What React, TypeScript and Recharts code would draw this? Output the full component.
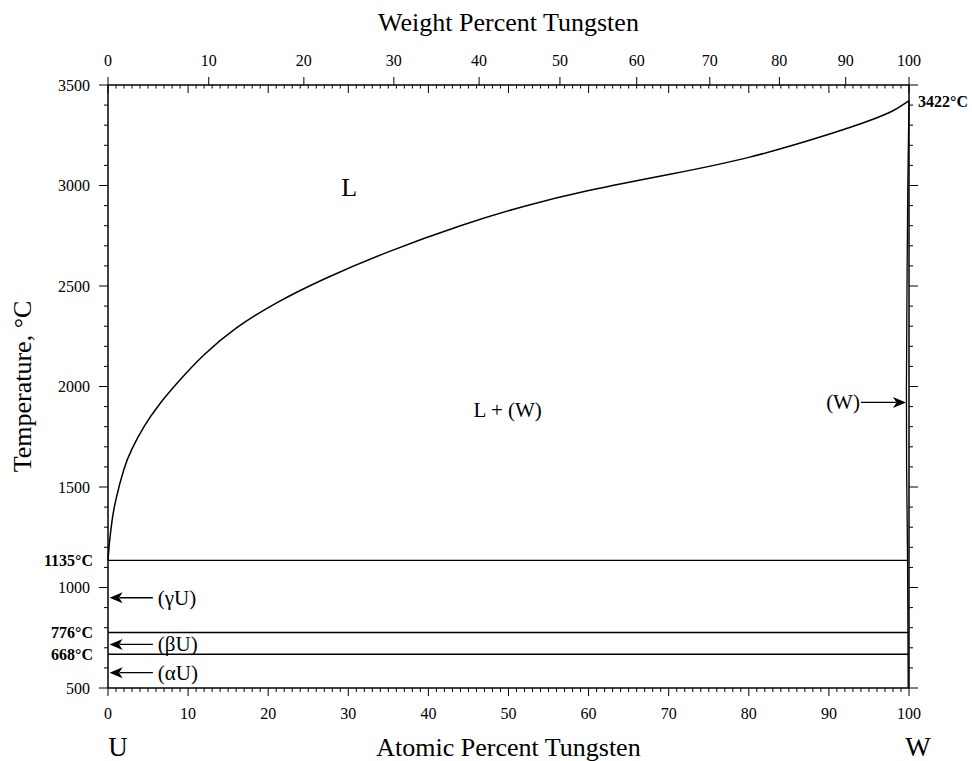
import { LineChart, Line, XAxis, YAxis, ReferenceLine, ReferenceDot } from 'recharts'

const serif = "'Liberation Serif', 'Times New Roman', serif"

// liquidus, atomic % W vs temperature
const liquidusAt = [0, 0.2, 0.5, 1, 2, 3, 4.5, 6.5, 9, 12, 16, 21, 27, 35, 44, 52, 60, 70, 80, 90, 95, 98, 100]
const liquidusT = [1135, 1230, 1330, 1440, 1590, 1690, 1800, 1915, 2033, 2158, 2290, 2415, 2535, 2670, 2800, 2897, 2975, 3055, 3140, 3255, 3322, 3372, 3422]

// (W) solidus / solvus on the tungsten side
const solidusAt = [100, 99.85, 99.75, 99.68, 99.7, 99.78, 99.82, 99.9]
const solidusT = [3422, 3000, 2500, 2000, 1600, 1300, 1135, 500]

// invariant horizontals
const invariantT = [1135, 776, 668]
const invariantEnd = [99.82, 100, 100]

const weightLabels = [0, 10, 20, 30, 40, 50, 60, 70, 80, 90, 100]
const tempLabels = [500, 1000, 1500, 2000, 2500, 3000, 3500]
const boldLeft = [1135, 776, 668]
const boldRight = [3422]

// phase arrows
const arrowText = ['(γU)', '(βU)', '(αU)', '(W)']
const arrowT = [949, 717, 576, 1921]
const arrowFrom = [5.6, 5.6, 5.6, 94.0]
const arrowTo = [0.2, 0.2, 0.2, 99.62]

const regionText = ['L', 'L + (W)']
const regionAt = [30.1, 49.9]
const regionT = [2988, 1883]
const regionSize = [26, 21]

const toAtomic = (w: number) => {
  if (w <= 0) return 0
  if (w >= 100) return 100
  const a = w / 183.84
  const b = (100 - w) / 238.03
  return (a / (a + b)) * 100
}

const weightAt = weightLabels.map(toAtomic)
const atomicMinor = Array.from({ length: 101 }, (_, i) => i)
const topTicks = Array.from(new Set([...atomicMinor, ...weightAt]))
const tempMinor = Array.from({ length: 31 }, (_, i) => 500 + i * 100)
const leftTicks = [...tempMinor, ...boldLeft]
const rightTicks = [...tempMinor, ...boldRight]

const liquidus = liquidusAt.map((x, i) => ({ x, y: liquidusT[i] }))
const solidus = solidusAt.map((x, i) => ({ x, y: solidusT[i] }))
const invariants = invariantT.map((t, i) => [
  { x: 0, y: t },
  { x: invariantEnd[i], y: t },
])

const txt = { fontFamily: serif, fill: '#000' }

function BottomTick({ x, y, payload }: any) {
  const v = payload.value
  const major = v % 10 === 0
  return (
    <g>
      <line x1={x} y1={y} x2={x} y2={y + (major ? 8 : 4)} stroke="#000" strokeWidth={1} />
      {major && (
        <text x={x} y={y + 31} textAnchor="middle" fontSize={16} style={txt}>
          {v}
        </text>
      )}
      {v === 0 && (
        <text x={x + 10} y={y + 68} textAnchor="middle" fontSize={27} style={txt}>U</text>
      )}
      {v === 100 && (
        <text x={x + 9} y={y + 68} textAnchor="middle" fontSize={27} style={txt}>W</text>
      )}
    </g>
  )
}

function TopTick({ x, y, payload }: any) {
  const v = payload.value
  const isInt = Number.isInteger(v)
  const wi = weightAt.findIndex((a) => Math.abs(a - v) < 1e-9)
  return (
    <g>
      {isInt && <line x1={x} y1={y} x2={x} y2={y + (v % 10 === 0 ? 8 : 3.5)} stroke="#000" strokeWidth={1} />}
      {wi >= 0 && (
        <>
          <line x1={x} y1={y} x2={x} y2={y - 8} stroke="#000" strokeWidth={1} />
          <text x={x} y={y - 19} textAnchor="middle" fontSize={16} style={txt}>
            {weightLabels[wi]}
          </text>
        </>
      )}
    </g>
  )
}

function LeftTick({ x, y, payload }: any) {
  const v = payload.value
  if (boldLeft.includes(v)) {
    return (
      <text x={x - 15} y={y + 5.5} textAnchor="end" fontSize={16} fontWeight="bold" style={txt}>
        {v}°C
      </text>
    )
  }
  const major = tempLabels.includes(v)
  return (
    <g>
      <line x1={x} y1={y} x2={x - (major ? 9 : 4)} y2={y} stroke="#000" strokeWidth={1} />
      {major && (
        <text x={x - 18} y={y + 5.5} textAnchor="end" fontSize={16} style={txt}>
          {v}
        </text>
      )}
    </g>
  )
}

function RightTick({ x, y, payload }: any) {
  const v = payload.value
  if (boldRight.includes(v)) {
    return (
      <text x={x + 9} y={y + 6.5} textAnchor="start" fontSize={16} fontWeight="bold" style={txt}>
        {v}°C
      </text>
    )
  }
  const major = tempLabels.includes(v)
  return <line x1={x} y1={y} x2={x + (major ? 9 : 4)} y2={y} stroke="#000" strokeWidth={1} />
}

function Arrow(props: any) {
  const { x1, y1, x2, y2 } = props
  const dir = Math.sign(x2 - x1)
  const head = 13
  const half = 5.5
  const bx = x2 - dir * head
  return (
    <g>
      <line x1={x1} y1={y1} x2={bx + dir * 3} y2={y2} stroke="#000" strokeWidth={1.3} />
      <polygon points={`${x2},${y2} ${bx},${y2 - half} ${bx + dir * 3.5},${y2} ${bx},${y2 + half}`} fill="#000" />
    </g>
  )
}

const titleStyle = { fontFamily: serif, fontSize: 26, fill: '#000' }

export default function App() {
  return (
    <div style={{ position: 'absolute', left: 0, top: 0, background: '#fff' }}>
      <LineChart width={972} height={761} margin={{ top: 0, right: 0, bottom: 0, left: 0 }}>
        <XAxis
          xAxisId="bottom"
          type="number"
          dataKey="x"
          domain={[0, 100]}
          ticks={atomicMinor}
          interval={0}
          height={73}
          tickLine={false}
          tickSize={0}
          tickMargin={0}
          axisLine={{ stroke: '#000', strokeWidth: 1.5 }}
          tick={(p: any) => <BottomTick {...p} />}
          label={{
            content: (p: any) => {
              const vb = p.viewBox
              return (
                <text x={vb.x + vb.width / 2} y={vb.y + 68} textAnchor="middle" style={titleStyle}>
                  Atomic Percent Tungsten
                </text>
              )
            },
          }}
        />
        <XAxis
          xAxisId="top"
          orientation="top"
          type="number"
          dataKey="x"
          domain={[0, 100]}
          ticks={topTicks}
          interval={0}
          height={85}
          tickLine={false}
          tickSize={0}
          tickMargin={0}
          axisLine={{ stroke: '#000', strokeWidth: 1.5 }}
          tick={(p: any) => <TopTick {...p} />}
          label={{
            content: (p: any) => {
              const vb = p.viewBox
              return (
                <text x={vb.x + vb.width / 2} y={vb.y + 31} textAnchor="middle" style={titleStyle}>
                  Weight Percent Tungsten
                </text>
              )
            },
          }}
        />
        <YAxis
          yAxisId="left"
          type="number"
          domain={[500, 3500]}
          ticks={leftTicks}
          interval={0}
          width={108}
          tickLine={false}
          tickSize={0}
          tickMargin={0}
          axisLine={{ stroke: '#000', strokeWidth: 1.5 }}
          tick={(p: any) => <LeftTick {...p} />}
          label={{
            content: (p: any) => {
              const vb = p.viewBox
              const cy = vb.y + vb.height / 2
              return (
                <text x={22} y={cy} textAnchor="middle" dominantBaseline="central" transform={`rotate(-90, 22, ${cy})`} style={titleStyle}>
                  Temperature, °C
                </text>
              )
            },
          }}
        />
        <YAxis
          yAxisId="right"
          orientation="right"
          type="number"
          domain={[500, 3500]}
          ticks={rightTicks}
          interval={0}
          width={63}
          tickLine={false}
          tickSize={0}
          tickMargin={0}
          axisLine={{ stroke: '#000', strokeWidth: 1.5 }}
          tick={(p: any) => <RightTick {...p} />}
        />

        <Line
          xAxisId="bottom"
          yAxisId="left"
          data={liquidus}
          dataKey="y"
          type="natural"
          stroke="#000"
          strokeWidth={1.5}
          dot={false}
          activeDot={false}
          isAnimationActive={false}
        />
        <Line
          xAxisId="top"
          yAxisId="right"
          data={solidus}
          dataKey="y"
          type="linear"
          stroke="#000"
          strokeWidth={1.3}
          dot={false}
          activeDot={false}
          isAnimationActive={false}
        />
        {invariants.map((d, i) => (
          <Line
            key={invariantT[i]}
            xAxisId="bottom"
            yAxisId="left"
            data={d}
            dataKey="y"
            type="linear"
            stroke="#000"
            strokeWidth={1.3}
            dot={false}
            activeDot={false}
            isAnimationActive={false}
          />
        ))}

        {arrowText.map((t, i) => (
          <ReferenceLine
            key={'a' + i}
            xAxisId="bottom"
            yAxisId="left"
            segment={[
              { x: arrowFrom[i], y: arrowT[i] },
              { x: arrowTo[i], y: arrowT[i] },
            ]}
            shape={(p: any) => <Arrow {...p} />}
          />
        ))}
        {arrowText.map((t, i) => {
          const leftSide = arrowFrom[i] < arrowTo[i]
          return (
            <ReferenceDot
              key={'t' + i}
              xAxisId="bottom"
              yAxisId="left"
              x={arrowFrom[i]}
              y={arrowT[i]}
              r={0}
              shape={(p: any) => (
                <text
                  x={p.cx + (leftSide ? -1 : 5)}
                  y={p.cy}
                  dominantBaseline="central"
                  textAnchor={leftSide ? 'end' : 'start'}
                  fontSize={21}
                  style={txt}
                >
                  {t}
                </text>
              )}
            />
          )
        })}
        {regionText.map((t, i) => (
          <ReferenceDot
            key={'r' + i}
            xAxisId="bottom"
            yAxisId="left"
            x={regionAt[i]}
            y={regionT[i]}
            r={0}
            shape={(p: any) => (
              <text x={p.cx} y={p.cy} dominantBaseline="central" textAnchor="middle" fontSize={regionSize[i]} style={txt}>
                {t}
              </text>
            )}
          />
        ))}
      </LineChart>
    </div>
  )
}
